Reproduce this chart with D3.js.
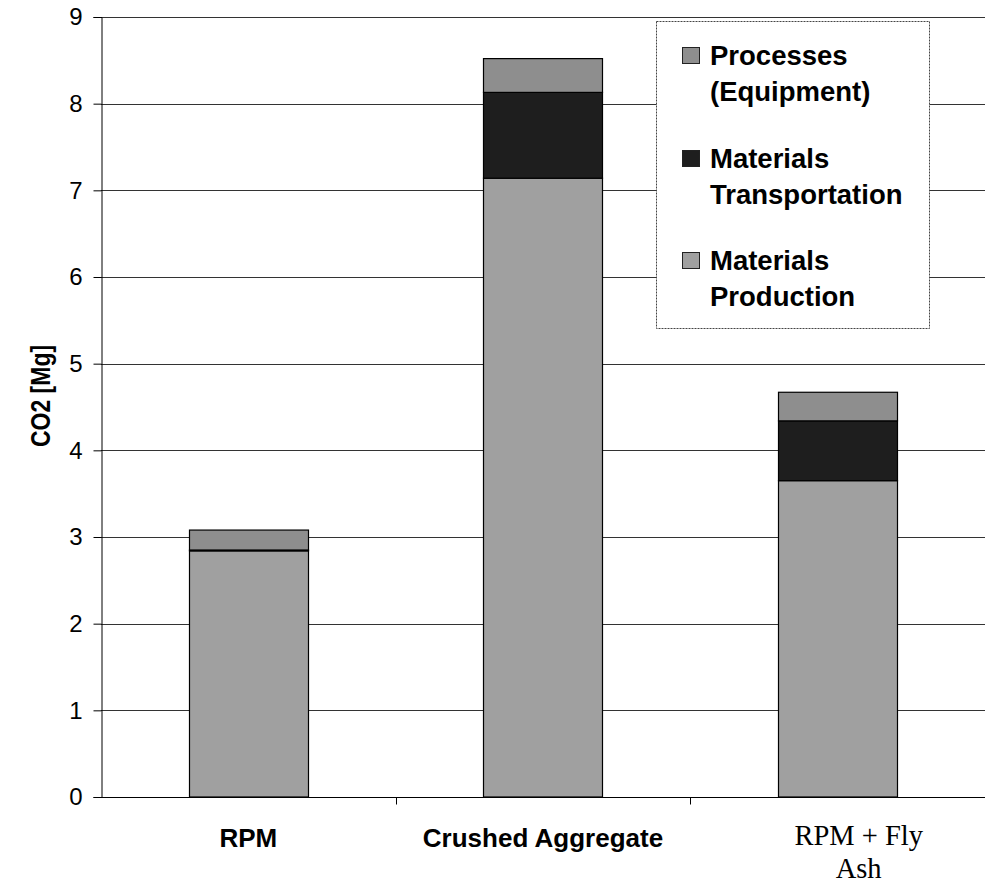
<!DOCTYPE html>
<html>
<head>
<meta charset="utf-8">
<script src="https://cdn.jsdelivr.net/npm/d3@7"></script>
<style>
  body { margin: 0; background: #fff; }
  svg { display: block; }
</style>
</head>
<body>
<div id="chart"></div>
<script>
const categories = ["RPM", "Crushed Aggregate", "RPM + Fly Ash"];
const seriesNames = ["Materials Production", "Materials Transportation", "Processes (Equipment)"];
const materialsProduction = [2.84, 7.14, 3.65];
const materialsTransportation = [0.01, 0.99, 0.69];
const processesEquipment = [0.23, 0.39, 0.33];
const yTicks = [0, 1, 2, 3, 4, 5, 6, 7, 8, 9];
const legendLabels = [["Processes", "(Equipment)"], ["Materials", "Transportation"], ["Materials", "Production"]];
const xLabels = [["RPM"], ["Crushed Aggregate"], ["RPM + Fly", "Ash"]];

const W = 988, H = 883;
const margin = { left: 101, right: 3, top: 17, bottom: 86 };
const colors = { "Materials Production": "#a0a0a0", "Materials Transportation": "#1e1e1e", "Processes (Equipment)": "#8e8e8e" };
const sans = "Arial, 'Liberation Sans', sans-serif";
const serifF = "'Times New Roman', 'Liberation Serif', serif";

const svg = d3.select("#chart").append("svg").attr("width", W).attr("height", H);

const x = d3.scaleBand().domain(categories).range([margin.left, W - margin.right])
  .paddingInner(0.596).paddingOuter(0.298);
const xEdges = d3.scaleBand().domain(categories).range([margin.left, W - margin.right]).padding(0);
const y = d3.scaleLinear().domain([0, 9]).range([H - margin.bottom, margin.top]);

// gridlines
svg.append("g").selectAll("line").data(yTicks.filter(d => d > 0)).join("line")
  .attr("x1", margin.left).attr("x2", W - margin.right)
  .attr("y1", d => Math.round(y(d)) + 0.5).attr("y2", d => Math.round(y(d)) + 0.5)
  .attr("stroke", "#333").attr("stroke-width", 1);

// stacked data
const rows = categories.map((c, i) => ({
  cat: c,
  "Materials Production": materialsProduction[i],
  "Materials Transportation": materialsTransportation[i],
  "Processes (Equipment)": processesEquipment[i]
}));
const stack = d3.stack().keys(seriesNames)(rows);

svg.append("g").selectAll("g").data(stack).join("g")
  .attr("fill", d => colors[d.key])
  .selectAll("rect").data(d => d).join("rect")
  .attr("x", d => Math.round(x(d.data.cat)) + 0.5)
  .attr("width", Math.round(x.bandwidth()))
  .attr("y", d => y(d[1]))
  .attr("height", d => y(d[0]) - y(d[1]))
  .attr("stroke", "#000").attr("stroke-width", 1.2);

// y axis
const yAxis = d3.axisLeft(y).tickValues(yTicks).tickSize(8).tickPadding(11).tickFormat(d3.format("d"));
const gy = svg.append("g").attr("transform", `translate(${margin.left + 0.5},0)`).call(yAxis);
gy.select(".domain").attr("stroke", "#000");
gy.selectAll(".tick line").attr("stroke", "#000");
gy.selectAll("text").attr("font-family", sans).attr("font-size", 24).attr("fill", "#000");

// x axis baseline
const gx = svg.append("g").attr("transform", `translate(0,${Math.round(y(0)) + 0.5})`);
gx.append("line").attr("x1", margin.left).attr("x2", W - margin.right).attr("stroke", "#000");
gx.selectAll("line.tk").data(categories.slice(1)).join("line").attr("class", "tk")
  .attr("x1", d => Math.round(xEdges(d)) + 0.5).attr("x2", d => Math.round(xEdges(d)) + 0.5)
  .attr("y1", 0).attr("y2", 7).attr("stroke", "#000");

// x labels
xLabels.forEach((lines, i) => {
  const serif = lines.length > 1;
  const cx = x(categories[i]) + x.bandwidth() / 2 + (serif ? 21 : 0);
  const t = svg.append("text").attr("x", cx).attr("y", serif ? 845 : 847)
    .attr("text-anchor", "middle")
    .attr("font-family", serif ? serifF : sans)
    .attr("font-weight", serif ? "normal" : "bold")
    .attr("font-size", serif ? 28.5 : 26).attr("fill", "#000");
  lines.forEach((l, j) => t.append("tspan").attr("x", cx).attr("dy", j === 0 ? 0 : 33).text(l));
});

// y title
svg.append("text").attr("transform", "translate(50,396) rotate(-90) scale(1,1.18)")
  .attr("text-anchor", "middle")
  .attr("font-family", sans)
  .attr("font-weight", "bold").attr("font-size", 23).attr("fill", "#000")
  .text("CO2 [Mg]");

// legend
const lg = svg.append("g");
lg.append("rect").attr("x", 656.5).attr("y", 21.5).attr("width", 273).attr("height", 307)
  .attr("fill", "#fff").attr("stroke", "#444").attr("stroke-width", 1).attr("stroke-dasharray", "2,1");
const legendKeys = ["Processes (Equipment)", "Materials Transportation", "Materials Production"];
const legendY = [65, 168, 270];
legendKeys.forEach((k, i) => {
  lg.append("rect").attr("x", 682.5).attr("y", legendY[i] - 17.5).attr("width", 17).attr("height", 16)
    .attr("fill", colors[k]).attr("stroke", "#222").attr("stroke-width", 1);
  const t = lg.append("text").attr("x", 710).attr("y", legendY[i])
    .attr("font-family", sans)
    .attr("font-weight", "bold").attr("font-size", 27.5).attr("fill", "#000");
  legendLabels[i].forEach((l, j) => t.append("tspan").attr("x", 710).attr("dy", j === 0 ? 0 : 36).text(l));
});
</script>
</body>
</html>
